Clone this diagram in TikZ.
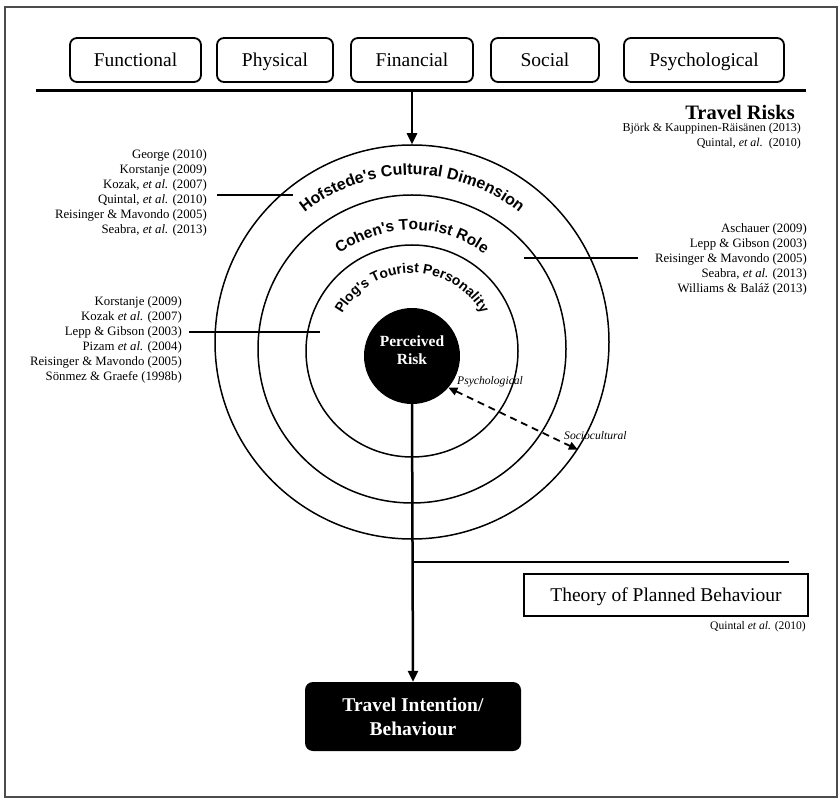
\documentclass[tikz,border=0pt]{standalone}
\usepackage{fontspec}
\setmainfont{Liberation Serif}
\newfontfamily\arcfont{Liberation Sans}
\usetikzlibrary{arrows.meta,decorations.text}
\begin{document}
\begin{tikzpicture}[x=1pt,y=1pt,
  topbox/.style={draw, line width=1.8pt, rounded corners=7pt, minimum height=44pt, inner sep=0pt, text height=18pt, text depth=4pt, font=\fontsize{19.5}{22}\selectfont},
  cite/.style={align=right, inner sep=0pt, font=\fontsize{12.8}{15}\selectfont},
  ring/.style={circle, draw, line width=1.5pt, inner sep=0pt},
  arrowline/.style={line width=2.5pt, -{Triangle[length=11pt,width=10pt]}},
  leader/.style={line width=2.5pt},
  arctext/.style={decorate, decoration={text along path, text align=center, text={#1}}},
  smallit/.style={inner sep=0pt, font=\itshape\fontsize{11.6}{13}\selectfont}
]
\useasboundingbox (0,0) rectangle (840,801);
\draw[gray!60!black, line width=1.5pt] (5,4) rectangle (837,794);

% top risk boxes
\node[topbox, minimum width=131pt] (func) at (135.5,741) {Functional};
\node[topbox, minimum width=116pt] (phys) at (275,741) {Physical};
\node[topbox, minimum width=122pt] (fin) at (412,741) {Financial};
\node[topbox, minimum width=108pt] (soc) at (545,741) {Social};
\node[topbox, minimum width=160pt] (psy) at (704,741) {Psychological};
\coordinate (barL) at (36,710);
\coordinate (barR) at (806,710);
\coordinate (riskbar) at (412,710);
\draw[line width=3pt] (barL) -- (barR);

% travel risks heading
\node[anchor=east, inner sep=0pt, font=\bfseries\fontsize{20.5}{24}\selectfont] (trh) at (795,689) {Travel Risks};
\node[anchor=east, align=right, inner sep=0pt, font=\fontsize{12}{15}\selectfont] (trcite) at (801,664.5) {Bj\"ork \& Kauppinen-R\"ais\"anen (2013)\\Quintal, \textit{et al.}\ \ (2010)};

% rings
\node[ring, minimum size=394pt] (hof) at (412,459) {};
\node[ring, minimum size=308pt] (coh) at (412,452) {};
\node[ring, minimum size=212pt] (plog) at (412,450) {};
\node[circle, fill=black, minimum size=96pt, inner sep=0pt] (pr) at (412,445) {};
\node[text=white, align=center, inner sep=0pt, font=\bfseries\fontsize{15.5}{18}\selectfont] (prtext) at (412,451) {Perceived\\Risk};

\draw[arrowline] (riskbar) -- (hof.north);

% ring labels
\path[arctext={|\arcfont\bfseries\fontsize{16}{17}\selectfont|Hofstede's Cultural Dimension}] (412,455) ++(165:171) arc[start angle=165, end angle=15, radius=171];
\path[arctext={|\arcfont\bfseries\fontsize{15.5}{17}\selectfont|Cohen's Tourist Role}] (412,450) ++(165:121) arc[start angle=165, end angle=15, radius=121];
\path[arctext={|\arcfont\bfseries\fontsize{13.8}{15}\selectfont|Plog's Tourist Personality}] (412,448) ++(175:80) arc[start angle=175, end angle=5, radius=80];

% citations
\node[cite, anchor=east] (citeA) at (207,608) {George (2010)\\Korstanje (2009)\\Kozak, \textit{et al.} (2007)\\Quintal, \textit{et al.} (2010)\\Reisinger \& Mavondo (2005)\\Seabra, \textit{et al.} (2013)};
\coordinate (hofA) at (217,606);
\coordinate (hofB) at (293,606);
\draw[leader] (hofA) -- (hofB);

\node[cite, anchor=east] (citeB) at (182,461) {Korstanje (2009)\\Kozak \textit{et al.} (2007)\\Lepp \& Gibson (2003)\\Pizam \textit{et al.} (2004)\\Reisinger \& Mavondo (2005)\\S\"onmez \& Graefe (1998b)};
\coordinate (plogA) at (189,469);
\coordinate (plogB) at (320,469);
\draw[leader] (plogA) -- (plogB);

\node[cite, anchor=east] (citeC) at (807,542) {Aschauer (2009)\\Lepp \& Gibson (2003)\\Reisinger \& Mavondo (2005)\\Seabra, \textit{et al.} (2013)\\Williams \& Bal\'a\v{z} (2013)};
\coordinate (cohA) at (524,543);
\coordinate (cohB) at (638,543);
\draw[leader] (cohA) -- (cohB);

% psychological / sociocultural
\node[smallit, anchor=west] (lpsy) at (457,419) {Psychological};
\node[smallit, anchor=west] (lsoc) at (564,365) {Sociocultural};
\draw[line width=1.8pt, dash pattern=on 7pt off 5pt, {Triangle[length=9pt,width=8pt]}-{Triangle[length=9pt,width=8pt]}] (pr.-41) -- (hof.-33);

% outcome
\node[fill=black, rounded corners=8pt, minimum width=216pt, minimum height=69pt, inner sep=0pt, text=white, align=center, font=\bfseries\fontsize{19.5}{24}\selectfont] (ti) at (413,84.5) {Travel Intention/\\Behaviour};
\draw[arrowline] (pr.south) -- (ti.north);
\coordinate (tpbJ) at (412,239);
\coordinate (tpbE) at (789,239);
\draw[line width=2.5pt] (tpbJ) -- (tpbE);
\node[draw, line width=1.5pt, minimum width=284pt, minimum height=42pt, inner sep=0pt, text height=16pt, text depth=4pt, font=\fontsize{19.5}{22}\selectfont] (tpb) at (666,206) {Theory of Planned Behaviour};
\node[anchor=east, inner sep=0pt, font=\fontsize{11.6}{13}\selectfont] (tpbcite) at (806,174) {Quintal \textit{et al.} (2010)};
\end{tikzpicture}
\end{document}
